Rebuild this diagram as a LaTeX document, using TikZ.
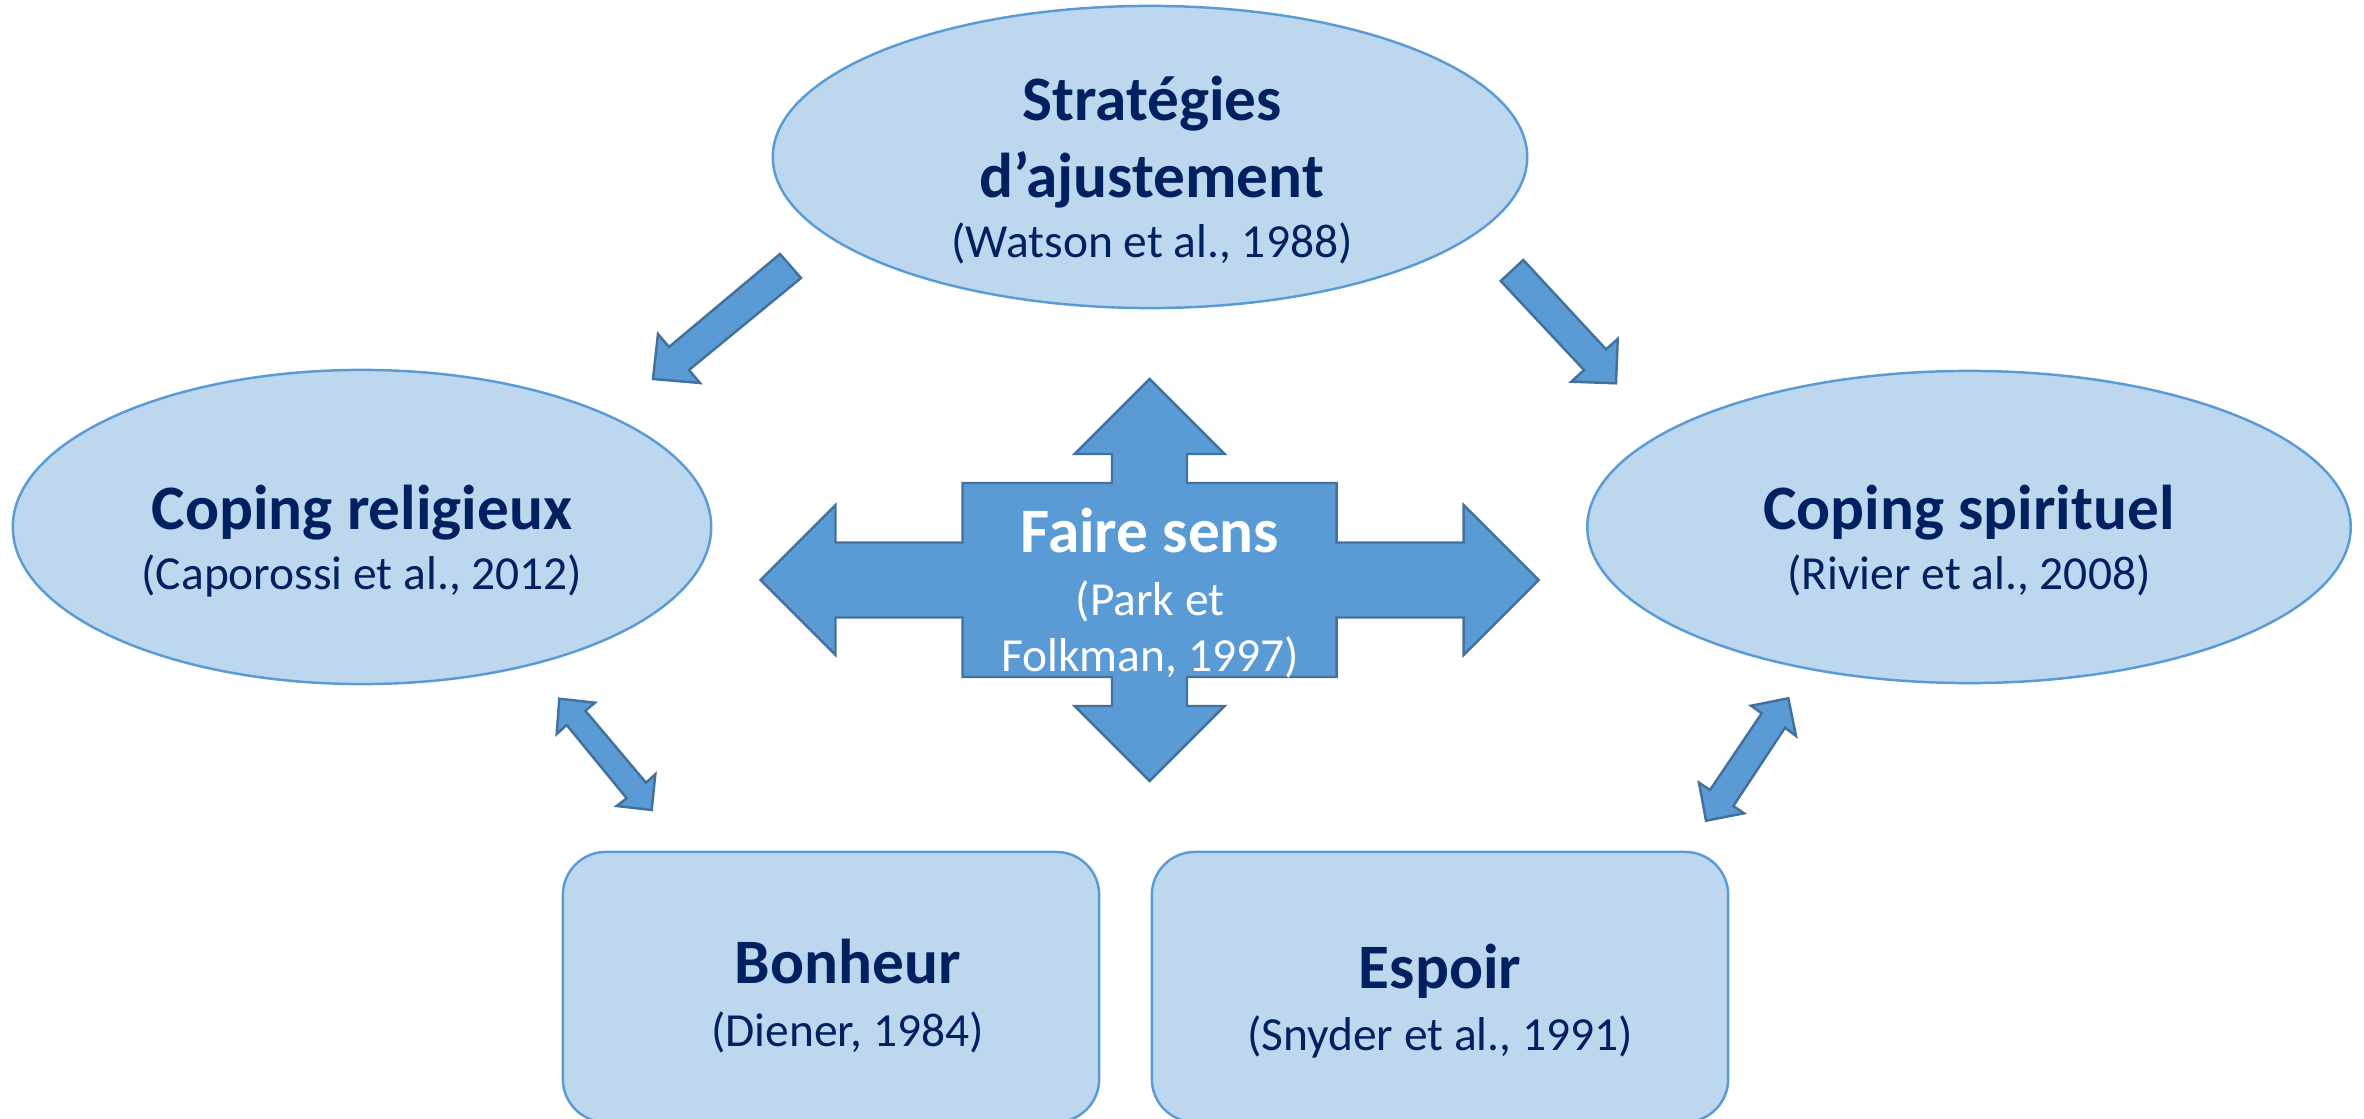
\documentclass[tikz,border=0pt]{standalone}
\usepackage{fontspec}
\setmainfont{Carlito}
\usetikzlibrary{shapes.geometric}
\definecolor{navy}{RGB}{0,32,96}
\definecolor{paleblue}{RGB}{189,215,238}
\definecolor{midblue}{RGB}{91,155,213}
\definecolor{darkblue}{RGB}{65,113,156}
\newcommand{\ttl}[1]{{\fontsize{18}{22}\selectfont\bfseries #1}}

\begin{document}
\begin{tikzpicture}[x=0.01cm, y=-0.01cm,
    bubble/.style={ellipse, draw=midblue, fill=paleblue, line width=0.7pt, inner sep=0pt},
    card/.style={rectangle, rounded corners=0.43cm, draw=midblue, fill=paleblue,
      line width=0.7pt, inner sep=0pt, minimum height=2.7cm},
    txt/.style={align=center, inner sep=0pt, text=navy, font=\fontsize{13.5}{22}\selectfont, anchor=base},
    blockarrow/.style={draw=darkblue, fill=midblue, line width=0.7pt, line join=miter}]
  \useasboundingbox (0,0) rectangle (2364,1119);

  \node[bubble, minimum width=7.54cm, minimum height=3.02cm] (strat) at (1150,157) {};
  \node[bubble, minimum width=6.98cm, minimum height=3.14cm] (relig) at (362,527) {};
  \node[bubble, minimum width=7.63cm, minimum height=3.12cm] (spirit) at (1969,527) {};
  \node[card, minimum width=5.36cm] (bonheur) at (831,987) {};
  \node[card, minimum width=5.76cm] (espoir) at (1440,987) {};

  % block arrows between the shapes
  \draw[blockarrow] (780,254) -- (669,347) -- (658,334) -- (653,379) -- (700,383) -- (689,370) -- (801,278) -- cycle;
  \draw[blockarrow] (1523.3,260) -- (1606,349.3) -- (1617.7,339) -- (1616,383.3) -- (1571.3,381.7) -- (1584,370) -- (1500.7,281) -- cycle;
  \draw[blockarrow] (559.3,698.7) -- (595,702.7) -- (585.3,710.7) -- (646,782.7) -- (655.3,774.3) -- (651.7,810)
    -- (616.7,806) -- (626.7,798.3) -- (566.7,725) -- (556.7,734) -- cycle;
  \draw[blockarrow] (1788.3,698.3) -- (1796,736) -- (1785,727.7) -- (1733.3,806) -- (1744,813.3) -- (1706,820.7)
    -- (1699,782.7) -- (1710,790) -- (1761.7,713.3) -- (1751,705.7) -- cycle;

  % four-way arrow in the middle
  \draw[blockarrow, shift={(1149.5,580)}] (-389,0) -- (-314,-75) -- (-314,-37.5) -- (-187,-37.5) -- (-187,-97)
    -- (-37.5,-97) -- (-37.5,-126) -- (-75,-126) -- (0,-201) -- (75,-126) -- (37.5,-126) -- (37.5,-97)
    -- (187,-97) -- (187,-37.5) -- (314,-37.5) -- (314,-75) -- (389,0) -- (314,75) -- (314,37.5)
    -- (187,37.5) -- (187,97) -- (37.5,97) -- (37.5,126) -- (75,126) -- (0,201) -- (-75,126)
    -- (-37.5,126) -- (-37.5,97) -- (-187,97) -- (-187,37.5) -- (-314,37.5) -- (-314,75) -- cycle;

  % texts, placed at the baseline of their last line
  \node[txt] (strat-t) at (1152,258) {\ttl{Stratégies}\\\ttl{d’ajustement}\\[-4.9pt](Watson et al., 1988)};
  \node[txt] (relig-t) at (362,589.3) {\ttl{Coping religieux}\\[-4.9pt](Caporossi et al., 2012)};
  \node[txt] (spirit-t) at (1969,590) {\ttl{Coping spirituel}\\[-4.7pt](Rivier et al., 2008)};
  \node[txt, text=white] (sens-t) at (1150,671.7) {\ttl{Faire sens}\\[-4.2pt](Park et\\[-5.9pt]Folkman, 1997)};
  \node[txt] (bonheur-t) at (847.5,1046) {\ttl{Bonheur}\\[-4.1pt](Diener, 1984)};
  \node[txt] (espoir-t) at (1440,1050) {\ttl{Espoir}\\[-4.4pt](Snyder et al., 1991)};
\end{tikzpicture}
\end{document}
